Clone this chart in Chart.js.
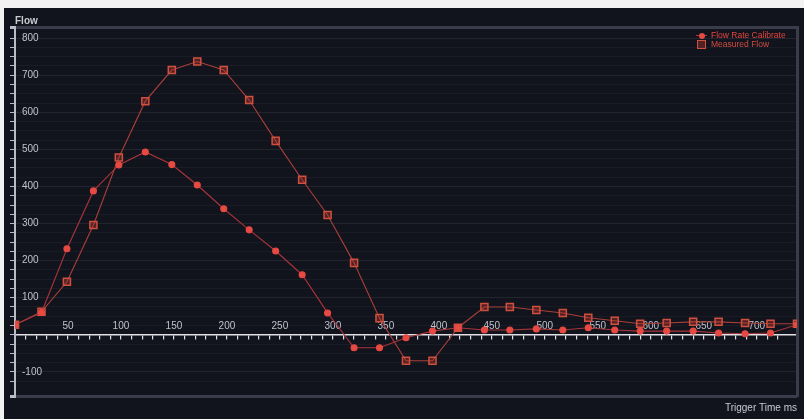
<!DOCTYPE html>
<html>
  <head>
    <meta charset="utf-8">
    <style type="text/css">
      body { margin: 0; background: #f2f2f2; }
      .chart-container {
        position: absolute;
        left: 4px;
        top: 8px;
        width: 800px;
        height: 411px;
        background-color: #11131d;
      }
      .legend {
        position: absolute;
        left: 692px;
        top: 23px;
        font: 8.5px 'Liberation Sans', sans-serif;
      }
      .legend div { height: 9px; line-height: 9px; white-space: nowrap; }
      .mk {
        display: inline-block;
        position: relative;
        width: 11px;
        height: 9px;
        margin-right: 4px;
        vertical-align: top;
      }
      .mk.dot::before {
        content: '';
        position: absolute;
        left: 0; right: 0; top: 4px;
        height: 1px;
        background: #a8353a;
      }
      .mk.dot::after {
        content: '';
        position: absolute;
        left: 3px; top: 1.5px;
        width: 6px; height: 6px;
        border-radius: 50%;
        background: #e64a42;
      }
      .mk.sq::after {
        content: '';
        position: absolute;
        left: 1px; top: 0;
        width: 7px; height: 7px;
        border: 1px solid #d0503f;
        background: rgba(200, 60, 50, 0.35);
      }
    </style>
  </head>
  <body>
    <script src="https://cdn.jsdelivr.net/npm/chart.js@4.4.0/dist/chart.umd.min.js"></script>

    <div class="chart-container">
      <canvas id="myChart" width="800" height="411"></canvas>
      <div class="legend">
        <div style="color:#e4463e"><span class="mk dot"></span>Flow Rate Calibrate</div>
        <div style="color:#d24c40"><span class="mk sq"></span>Measured Flow</div>
      </div>
    </div>

    <script>
      /* datas */
      const times = [0, 25, 49, 74, 98, 123, 148, 172, 197, 221, 246, 271, 295, 320, 344, 369,
        394, 418, 443, 467, 492, 517, 541, 566, 590, 615, 640, 664, 689, 713, 738];
      const flowCalibrated = [27, 60, 232, 388, 458, 493, 459, 404, 340, 283, 226, 162, 59, -35, -35, -8,
        10, 19, 13, 13, 16, 13, 19, 13, 10, 10, 10, 5, 3, 5, 27];
      const flowMeasured = [27, 62, 143, 296, 478, 630, 714, 737, 714, 633, 523, 418, 323, 194, 45, -70,
        -70, 19, 75, 75, 67, 59, 46, 38, 30, 32, 35, 35, 32, 30, 30];
      const xTickLabels = [50, 100, 150, 200, 250, 300, 350, 400, 450, 500, 550, 600, 650, 700];
      const yTickLabels = [-100, 100, 200, 300, 400, 500, 600, 700, 800];

      const Y_MIN = -165, Y_MAX = 830;
      const labelFont = { family: "'Liberation Sans', sans-serif", size: 10 };

      const toPoints = (vals) => times.map((t, i) => ({ x: t, y: vals[i] }));

      const myChart = new Chart('myChart', {
        type: 'line',
        data: {
          datasets: [{
            label: 'Flow Rate Calibrate',
            data: toPoints(flowCalibrated),
            borderColor: '#a8353a',
            borderWidth: 1.1,
            pointStyle: 'circle',
            pointRadius: 3,
            pointBackgroundColor: '#e64a42',
            pointBorderColor: '#e64a42',
            tension: 0
          },
          {
            label: 'Measured Flow',
            data: toPoints(flowMeasured),
            borderColor: '#a8403a',
            borderWidth: 1.1,
            pointStyle: 'rect',
            pointRadius: 5,
            pointBackgroundColor: 'rgba(200, 60, 50, 0.35)',
            pointBorderColor: '#d0503f',
            pointBorderWidth: 1.5,
            tension: 0
          }]
        },
        options: {
          responsive: false,
          animation: false,
          layout: { padding: { left: -8, right: 7, top: 0, bottom: 0 } },
          scales: {
            x: {
              type: 'linear',
              position: { y: 0 },
              min: 0,
              max: 738,
              ticks: {
                stepSize: 10,
                autoSkip: false,
                maxRotation: 0,
                padding: -19,
                color: '#c0c2ca',
                font: labelFont,
                callback: (value) => xTickLabels.includes(value) ? String(value) : ''
              },
              grid: {
                drawOnChartArea: false,
                tickLength: 4,
                color: '#e0e0e6',
                lineWidth: 1.2
              },
              border: { color: '#e0e0e6', width: 1.5 }
            },
            y: {
              position: 'left',
              min: Y_MIN,
              max: Y_MAX,
              ticks: {
                stepSize: 25,
                autoSkip: false,
                mirror: true,
                padding: 7,
                color: '#c0c2ca',
                font: labelFont,
                callback: (value) => yTickLabels.includes(value) ? String(value) : ''
              },
              grid: {
                tickLength: 5,
                color: (ctx) => {
                  const v = ctx.tick ? ctx.tick.value : 0;
                  if (v === Y_MIN || v === Y_MAX) return '#3a3d49';
                  if (v % 100 === 0) return 'rgba(255,255,255,0.08)';
                  return 'rgba(255,255,255,0.04)';
                },
                lineWidth: (ctx) => {
                  const v = ctx.tick ? ctx.tick.value : 0;
                  return (v === Y_MIN || v === Y_MAX) ? 3 : 1;
                },
                tickColor: '#b8bcc8'
              },
              border: { color: '#b8bcc8', width: 2 }
            },
            y2: {
              position: 'right',
              min: 0,
              max: 1,
              ticks: { display: false },
              grid: { drawOnChartArea: false, drawTicks: false },
              border: { color: '#3a3d49', width: 3 }
            }
          },
          plugins: {
            legend: { display: false },
            tooltip: { enabled: false },
            title: {
              display: true,
              text: 'Flow',
              align: 'start',
              fullSize: false,
              color: '#c8cad2',
              font: labelFont,
              padding: { top: 7, bottom: 0 }
            },
            subtitle: {
              display: true,
              text: 'Trigger Time ms',
              position: 'bottom',
              align: 'end',
              fullSize: false,
              color: '#c8cad2',
              font: labelFont,
              padding: { top: 6, bottom: 5 }
            }
          }
        }
      });
    </script>
  </body>
</html>
